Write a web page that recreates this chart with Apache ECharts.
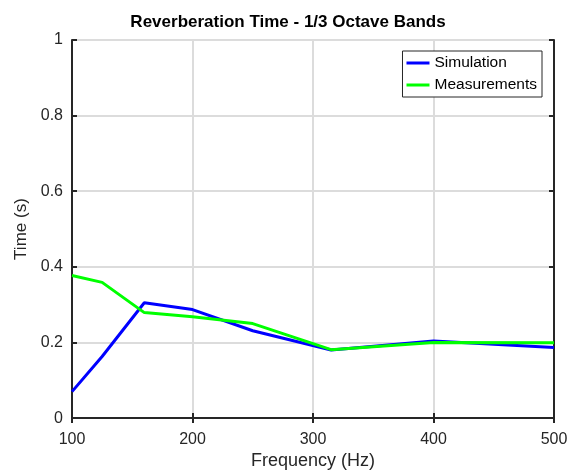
<!DOCTYPE html>
<html>
<head>
<meta charset="utf-8">
<script src="https://cdn.jsdelivr.net/npm/echarts@6/dist/echarts.min.js"></script>
<style>
  html, body { margin: 0; padding: 0; background: #fff; }
  #chart { width: 576px; height: 475px; }
</style>
</head>
<body>
<div id="chart"></div>
<script>
// 1/3 octave band centre frequencies (Hz)
var bands = [100, 125, 160, 200, 250, 315, 400, 500];
// reverberation time (s)
var simulation = [0.070, 0.163, 0.305, 0.287, 0.231, 0.180, 0.204, 0.187];
var measurements = [0.377, 0.359, 0.279, 0.268, 0.250, 0.181, 0.200, 0.199];

var chartDom = document.getElementById('chart');
var myChart = echarts.init(chartDom);

function pairs(xs, ys) {
    return xs.map(function (x, i) { return [x, ys[i]]; });
}

var font = 'Liberation Sans, Arial, sans-serif';
var ink = '#262626';

// box edges (top / right) with inward ticks, like the matlab frame
function frameAxis(extra) {
    return Object.assign({
        type: 'value',
        z: 3,
        axisLine: { show: true, lineStyle: { color: ink, width: 2 } },
        axisTick: { show: true, inside: true, length: 5, lineStyle: { color: ink, width: 2 } },
        axisLabel: { show: false },
        splitLine: { show: false }
    }, extra);
}

var option = {
    animation: false,
    backgroundColor: '#fff',
    title: {
        text: 'Reverberation Time - 1/3 Octave Bands',
        left: 'center',
        top: 9,
        textStyle: { fontFamily: font, fontSize: 17, fontWeight: 'bold', color: '#000' }
    },
    legend: {
        orient: 'vertical',
        right: 34,
        top: 51,
        padding: [4, 5, 4, 4],
        itemGap: 6,
        itemWidth: 23,
        itemHeight: 3,
        icon: 'rect',
        borderColor: ink,
        borderWidth: 1,
        borderRadius: 0,
        backgroundColor: '#fff',
        textStyle: { fontFamily: font, fontSize: 15.5, color: '#000' },
        data: ['Simulation', 'Measurements']
    },
    grid: {
        left: 72,
        right: 22,
        top: 40,
        bottom: 55
    },
    xAxis: [
        {
            type: 'value',
            min: 100,
            max: 500,
            interval: 100,
            name: 'Frequency (Hz)',
            nameLocation: 'middle',
            nameGap: 32,
            nameTextStyle: { fontFamily: font, fontSize: 18, color: ink },
            axisLine: { lineStyle: { color: ink, width: 2 } },
            axisTick: { inside: true, length: 5, lineStyle: { color: ink, width: 2 } },
            axisLabel: { fontFamily: font, fontSize: 16, color: ink, margin: 13 },
            splitLine: { show: true, lineStyle: { color: '#dcdcdc', width: 2 } }
        },
        frameAxis({ position: 'top', min: 100, max: 500, interval: 100 })
    ],
    yAxis: [
        {
            type: 'value',
            min: 0,
            max: 1,
            interval: 0.2,
            name: 'Time (s)',
            nameLocation: 'middle',
            nameGap: 36,
            nameTextStyle: { fontFamily: font, fontSize: 17, color: ink },
            axisLine: { lineStyle: { color: ink, width: 2 } },
            axisTick: { inside: true, length: 5, lineStyle: { color: ink, width: 2 } },
            axisLabel: { fontFamily: font, fontSize: 16, color: ink, margin: 9 },
            splitLine: { show: true, lineStyle: { color: '#dcdcdc', width: 2 } }
        },
        frameAxis({ position: 'right', min: 0, max: 1, interval: 0.2 })
    ],
    series: [
        {
            name: 'Simulation',
            type: 'line',
            symbol: 'none',
            color: '#0000ff',
            lineStyle: { width: 3, color: '#0000ff' },
            data: pairs(bands, simulation)
        },
        {
            name: 'Measurements',
            type: 'line',
            symbol: 'none',
            color: '#00ff00',
            lineStyle: { width: 3, color: '#00ff00' },
            data: pairs(bands, measurements)
        }
    ]
};

if (option && typeof option === 'object') {
    myChart.setOption(option);
}
</script>
</body>
</html>
